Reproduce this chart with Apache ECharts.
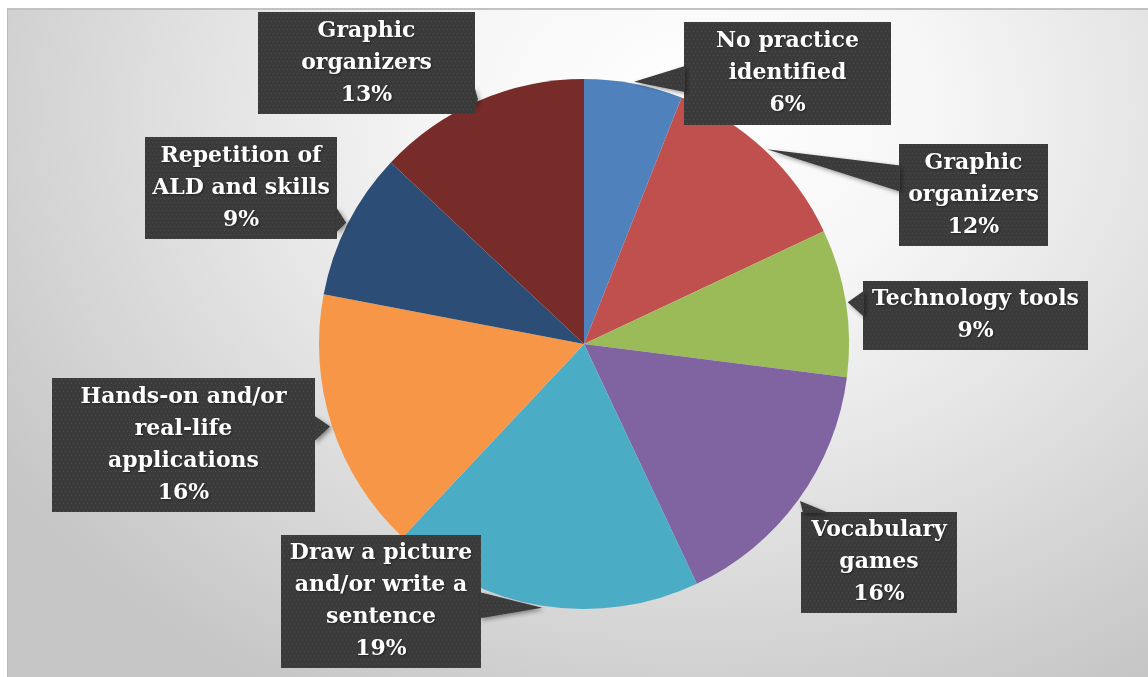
<!DOCTYPE html>
<html>
<head>
<meta charset="utf-8">
<title>Instructional practices</title>
<script src="https://cdn.jsdelivr.net/npm/echarts@6/dist/echarts.min.js"></script>
<style>
  html, body { margin: 0; padding: 0; background: #ffffff; width: 1148px; height: 677px; overflow: hidden; }
  #frame {
    position: absolute; left: 7px; top: 8px; width: 1141px; height: 667px;
    border-top: 2px solid #c2c2c2; border-left: 1px solid #bababa;
    background: radial-gradient(ellipse 72% 100% at 60% 15%, #ffffff 0%, #f6f6f6 30%, #e2e2e2 60%, #c6c6c6 100%);
  }
  #chart { position: absolute; left: 0; top: 0; width: 1148px; height: 677px; }
</style>
</head>
<body>
<div id="frame"></div>
<div id="chart"></div>
<script>
// Practice categories, clockwise from twelve o'clock
const categories = [
  'No practice\nidentified',
  'Graphic\norganizers',
  'Technology tools',
  'Vocabulary\ngames',
  'Draw a picture\nand/or write a\nsentence',
  'Hands-on and/or\nreal-life\napplications',
  'Repetition of\nALD and skills',
  'Graphic\norganizers'
];

// Share of observations, in percent
const shares = [6, 12, 9, 16, 19, 16, 9, 13];

const sliceColors = ['#4F81BD', '#C0504D', '#9BBB59', '#8064A2', '#4BACC6', '#F79646', '#2C4D75', '#772C2A'];

// Callout boxes: centre and size in pixels
const calloutBoxes = [
  { x: 787.5, y: 73.5,  w: 207, h: 103 },
  { x: 973.5, y: 195,   w: 149, h: 102 },
  { x: 975.5, y: 315,   w: 225, h: 68 },
  { x: 879,   y: 562.5, w: 156, h: 101 },
  { x: 381,   y: 601.5, w: 200, h: 133 },
  { x: 183.5, y: 445,   w: 263, h: 134 },
  { x: 241,   y: 188,   w: 192, h: 102 },
  { x: 366.5, y: 63,    w: 217, h: 102 }
];

const PIE_CENTER = [584, 344];
const PIE_RADIUS = 265;
const LINE_H = 32;
const TEXT_DROP = 3;

// Dark dotted fill used by the callouts
function dottedCanvas(w, h) {
  const c = document.createElement('canvas');
  c.width = Math.max(1, Math.round(w));
  c.height = Math.max(1, Math.round(h));
  const g = c.getContext('2d');
  g.fillStyle = '#3b3b3b';
  g.fillRect(0, 0, c.width, c.height);
  g.fillStyle = '#4d4d4d';
  for (let y = 1, row = 0; y < c.height; y += 4, row++) {
    for (let x = (row % 2) * 2 + 1; x < c.width; x += 4) {
      g.fillRect(x, y, 1, 1);
    }
  }
  return c;
}

const pieData = shares.map(function (v, i) {
  const b = calloutBoxes[i];
  const lines = categories[i].split('\n').length + 1;
  const pad = (b.h - lines * LINE_H) / 2;
  const padTop = Math.max(0, pad + TEXT_DROP);
  const padBottom = Math.max(0, pad - TEXT_DROP);
  return {
    name: categories[i],
    value: v,
    itemStyle: { color: sliceColors[i] },
    label: {
      width: b.w,
      padding: [padTop, 0, padBottom, 0],
      backgroundColor: { image: dottedCanvas(b.w, lines * LINE_H + padTop + padBottom) }
    }
  };
});

const chart = echarts.init(document.getElementById('chart'), null, { renderer: 'canvas' });

chart.setOption({
  animation: false,
  backgroundColor: 'transparent',
  series: [{
    type: 'pie',
    center: PIE_CENTER,
    radius: PIE_RADIUS,
    startAngle: 90,
    clockwise: true,
    avoidLabelOverlap: false,
    silent: true,
    data: pieData,
    itemStyle: { borderWidth: 0 },
    label: {
      show: true,
      position: 'outside',
      formatter: function (p) { return p.name + '\n' + Math.round(p.percent) + '%'; },
      color: '#ffffff',
      fontFamily: 'DejaVu Serif',
      fontWeight: 'bold',
      fontSize: 22,
      lineHeight: LINE_H,
      align: 'center',
      textShadowColor: 'rgba(0,0,0,0.45)',
      textShadowBlur: 2,
      textShadowOffsetX: 1,
      textShadowOffsetY: 1,
      shadowColor: 'rgba(0,0,0,0.55)',
      shadowBlur: 7,
      shadowOffsetX: 3,
      shadowOffsetY: 3
    },
    labelLine: { show: false },
    labelLayout: function (p) {
      const b = calloutBoxes[p.dataIndex];
      return { x: b.x, y: b.y, align: 'center', verticalAlign: 'middle' };
    }
  }]
});

// Point on the outer arc at the middle of slice i, from the pie's own layout
function sliceTip(i) {
  let cx = PIE_CENTER[0], cy = PIE_CENTER[1], r = PIE_RADIUS, mid;
  let layout = null;
  try {
    layout = chart.getModel().getSeriesByIndex(0).getData().getItemLayout(i);
  } catch (e) { layout = null; }
  if (layout && layout.startAngle != null) {
    cx = layout.cx; cy = layout.cy; r = layout.r;
    mid = (layout.startAngle + layout.endAngle) / 2;
  } else {
    const total = shares.reduce(function (a, b) { return a + b; }, 0);
    const before = shares.slice(0, i).reduce(function (a, b) { return a + b; }, 0);
    mid = -Math.PI / 2 + (before + shares[i] / 2) / total * Math.PI * 2;
  }
  return [cx + (r + 2) * Math.cos(mid), cy + (r + 2) * Math.sin(mid)];
}

// Callout pointers: a wedge from the box edge to the slice
const wedgeFill = { image: dottedCanvas(8, 8), repeat: 'repeat' };
const HALF_BASE = 13;
const wedges = shares.map(function (v, i) {
  const b = calloutBoxes[i];
  const x0 = b.x - b.w / 2, x1 = b.x + b.w / 2, y0 = b.y - b.h / 2, y1 = b.y + b.h / 2;
  const tip = sliceTip(i);
  const dx = b.x - tip[0], dy = b.y - tip[1];
  const tx = dx > 0 ? (x0 - tip[0]) / dx : (dx < 0 ? (x1 - tip[0]) / dx : -Infinity);
  const ty = dy > 0 ? (y0 - tip[1]) / dy : (dy < 0 ? (y1 - tip[1]) / dy : -Infinity);
  let p1, p2;
  if (tx >= ty) {
    const ex = dx > 0 ? x0 + 1 : x1 - 1;
    let yc = tip[1] + tx * dy;
    yc = Math.min(Math.max(yc, y0 + HALF_BASE + 2), y1 - HALF_BASE - 2);
    p1 = [ex, yc - HALF_BASE]; p2 = [ex, yc + HALF_BASE];
  } else {
    const ey = dy > 0 ? y0 + 1 : y1 - 1;
    let xc = tip[0] + ty * dx;
    xc = Math.min(Math.max(xc, x0 + HALF_BASE + 2), x1 - HALF_BASE - 2);
    p1 = [xc - HALF_BASE, ey]; p2 = [xc + HALF_BASE, ey];
  }
  return {
    type: 'polygon',
    silent: true,
    z: 5,
    shape: { points: [tip, p1, p2] },
    style: {
      fill: wedgeFill,
      shadowColor: 'rgba(0,0,0,0.4)',
      shadowBlur: 4,
      shadowOffsetX: 2,
      shadowOffsetY: 2
    }
  };
});

chart.setOption({ graphic: { elements: wedges } });
</script>
</body>
</html>
